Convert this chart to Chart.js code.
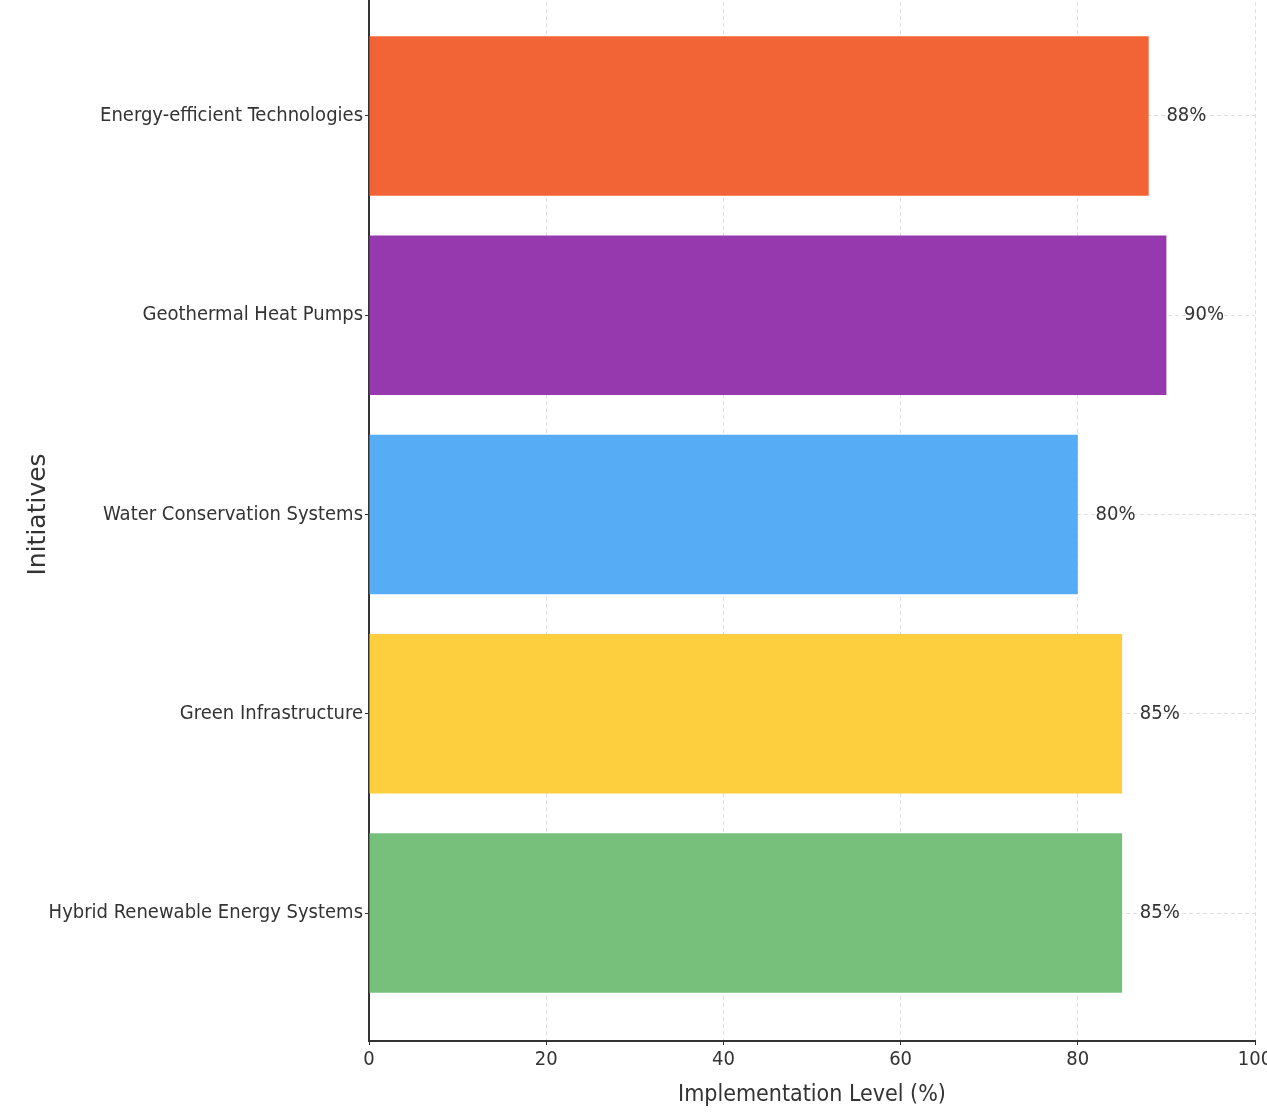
<!DOCTYPE html>
<html>
<head>
<meta charset="utf-8">
<script src="https://cdn.jsdelivr.net/npm/chart.js@4"></script>
<style>
  html, body { margin: 0; padding: 0; background: #fff; overflow: hidden; }
  #wrap { position: relative; width: 1267px; height: 1116px; overflow: hidden; }
  #chart { position: absolute; left: 0; top: -12px; }
</style>
</head>
<body>
<div id="wrap"><canvas id="chart" width="1300" height="1128"></canvas></div>
<script>
// bottom to top, as matplotlib draws them
const initiatives = [
    "Hybrid Renewable Energy Systems",
    "Green Infrastructure",
    "Water Conservation Systems",
    "Geothermal Heat Pumps",
    "Energy-efficient Technologies"
];
const levels = [85, 85, 80, 90, 88];
const barColors = ["#77c07b", "#fdce3e", "#56adf5", "#9639af", "#f26336"];
const xTicks = [0, 20, 40, 60, 80, 100];

const narrow = "'DejaVu Sans Condensed', 'Liberation Sans Narrow', 'DejaVu Sans', sans-serif";
const textColor = "#333333";

// percent labels just right of each bar
const valueLabels = {
    id: "valueLabels",
    afterDatasetsDraw(chart) {
        const ctx = chart.ctx;
        const xs = chart.scales.x;
        const ys = chart.scales.y;
        ctx.save();
        ctx.font = "20px " + narrow;
        ctx.fillStyle = textColor;
        ctx.textAlign = "left";
        ctx.textBaseline = "middle";
        levels.forEach((v, i) => {
            ctx.fillText(v + "%", xs.getPixelForValue(v + 2), ys.getPixelForValue(i));
        });
        ctx.restore();
    }
};

const ctx = document.getElementById("chart").getContext("2d");

new Chart(ctx, {
    type: "bar",
    data: {
        datasets: [{
            data: levels.map((v, i) => ({ x: v, y: i })),
            backgroundColor: barColors,
            borderWidth: 0,
            barPercentage: 0.8,
            categoryPercentage: 1
        }]
    },
    options: {
        indexAxis: "y",
        responsive: false,
        animation: false,
        layout: { padding: { left: 0, right: 45, top: 0, bottom: 0 } },
        plugins: { legend: { display: false }, tooltip: { enabled: false } },
        scales: {
            x: {
                type: "linear",
                min: 0,
                max: 100,
                z: 1,
                afterBuildTicks: (s) => { s.ticks = xTicks.map(v => ({ value: v })); },
                afterFit: (s) => { s.height = 75; s.paddingLeft = 0; s.paddingRight = 0; },
                border: { display: true, color: "#333", width: 2, dash: [4, 3] },
                grid: {
                    color: "rgba(0,0,0,0.12)",
                    tickColor: "#333",
                    tickLength: 4,
                    lineWidth: 1
                },
                ticks: {
                    padding: 3,
                    color: textColor,
                    font: { family: narrow, size: 20 }
                },
                title: {
                    display: true,
                    text: "Implementation Level (%)",
                    color: textColor,
                    font: { family: narrow, size: 23 },
                    padding: { top: 2, bottom: 7 }
                }
            },
            y: {
                type: "linear",
                min: -0.642,
                max: 4.642,
                offset: false,
                z: 1,
                afterBuildTicks: (s) => { s.ticks = initiatives.map((_, i) => ({ value: i })); },
                afterFit: (s) => { s.width = 369; s.paddingTop = 0; s.paddingBottom = 0; },
                border: { display: true, color: "#333", width: 2, dash: [4, 3] },
                grid: {
                    offset: false,
                    color: "rgba(0,0,0,0.12)",
                    tickColor: "#333",
                    tickLength: 4,
                    lineWidth: 1
                },
                ticks: {
                    padding: 2,
                    color: textColor,
                    font: { family: narrow, size: 20 },
                    callback: (v) => initiatives[v]
                },
                title: {
                    display: true,
                    text: "Initiatives",
                    color: textColor,
                    font: { family: "'DejaVu Sans', sans-serif", size: 25 },
                    padding: { top: 23, bottom: 0 }
                }
            }
        }
    },
    plugins: [valueLabels]
});
</script>
</body>
</html>
